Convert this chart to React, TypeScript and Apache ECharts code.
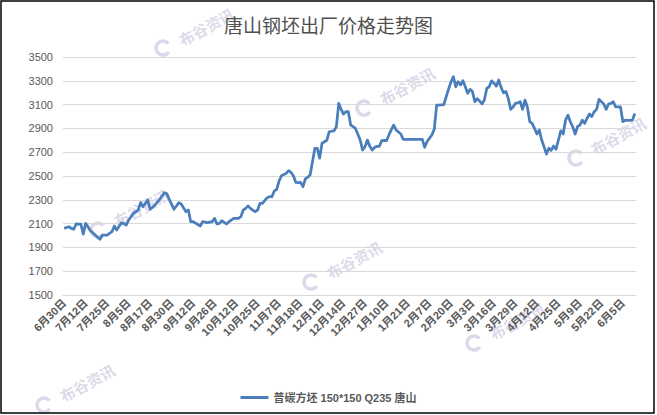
import React, { useEffect, useRef } from "react";
import * as echarts from "echarts";

const tickLabels = [
  "6月30日", "7月12日", "7月25日", "8月5日", "8月17日", "8月30日", "9月12日",
  "9月26日", "10月12日", "10月25日", "11月7日", "11月18日", "12月1日", "12月14日",
  "12月27日", "1月10日", "1月21日", "2月7日", "2月20日", "3月3日", "3月16日",
  "3月29日", "4月12日", "4月25日", "5月9日", "5月22日", "6月5日",
];
const LABEL_STEP = 9;

const prices = [
  2060, 2067, 2074, 2060, 2052, 2097, 2096, 2095, 2012, 2102,
  2071, 2040, 2022, 2004, 1986, 1968, 2004, 2004, 2004, 2018,
  2032, 2080, 2046, 2077, 2108, 2098, 2088, 2130, 2158, 2186,
  2200, 2214, 2276, 2242, 2270, 2298, 2220, 2238, 2256, 2280,
  2304, 2332, 2360, 2350, 2304, 2262, 2220, 2248, 2276, 2265,
  2232, 2200, 2214, 2116, 2116, 2104, 2092, 2080, 2116, 2112,
  2108, 2112, 2116, 2144, 2097, 2102, 2124, 2110, 2097, 2116,
  2130, 2144, 2144, 2144, 2158, 2214, 2228, 2248, 2228, 2214,
  2200, 2214, 2270, 2270, 2294, 2318, 2326, 2326, 2374, 2388,
  2458, 2502, 2512, 2522, 2545, 2530, 2502, 2447, 2445, 2447,
  2410, 2475, 2490, 2508, 2620, 2733, 2733, 2650, 2775, 2788,
  2800, 2872, 2876, 2880, 2914, 3110, 3060, 3021, 3040, 3040,
  2928, 2914, 2900, 2850, 2800, 2718, 2746, 2802, 2750, 2718,
  2740, 2750, 2750, 2797, 2800, 2797, 2845, 2887, 2928, 2887,
  2870, 2853, 2808, 2808, 2808, 2808, 2808, 2808, 2808, 2808,
  2808, 2741, 2790, 2817, 2845, 2892, 3096, 3096, 3098, 3100,
  3166, 3230, 3290, 3335, 3250, 3293, 3265, 3300, 3250, 3195,
  3228, 3210, 3124, 3150, 3130, 3105, 3140, 3236, 3250, 3300,
  3280, 3255, 3307, 3245, 3200, 3210, 3152, 3060, 3080, 3110,
  3116, 3124, 3060, 3138, 3080, 2956, 2942, 2900, 2853, 2887,
  2802, 2745, 2685, 2733, 2715, 2752, 2725, 2802, 2880, 2853,
  2970, 3012, 2956, 2914, 2853, 2914, 2928, 2970, 2942, 2985,
  3021, 3000, 3040, 3060, 3144, 3125, 3105, 3060, 3105, 3110,
  3124, 3080, 3080, 3080, 2956, 2970, 2968, 2968, 2970, 3025,
];

const seriesName = "普碳方坯 150*150 Q235 唐山";
const titleText = "唐山钢坯出厂价格走势图";
const watermarkText = "布谷资讯";
const Y_MIN = 1500;
const Y_MAX = 3500;
const Y_STEP = 200;

const watermarks = [
  { x: 163, y: 48, tx: 180, ty: 41 },
  { x: 98, y: 230, tx: 115, ty: 222 },
  { x: 364, y: 108, tx: 381, ty: 100 },
  { x: 576, y: 158, tx: 592, ty: 150 },
  { x: 311, y: 282, tx: 328, ty: 274 },
  { x: 474, y: 343, tx: 491, ty: 335 },
  { x: 44, y: 405, tx: 61, ty: 397 },
];

const FONT = "'Liberation Sans', 'Noto Sans CJK SC', sans-serif";

export default function App() {
  const ref = useRef<HTMLDivElement>(null);

  useEffect(() => {
    document.body.style.margin = "0";
    if (!ref.current) return;
    const chart = echarts.init(ref.current, undefined, { renderer: "svg" });
    const categories = prices.map((_, i) =>
      i % LABEL_STEP === 0 ? tickLabels[i / LABEL_STEP] : String(i)
    );

    const wmColor = "rgba(196,192,220,0.6)";
    const graphics: any[] = [];
    watermarks.forEach((w) => {
      graphics.push({
        type: "arc",
        z: 0,
        silent: true,
        shape: { cx: w.x, cy: w.y, r: 7, startAngle: 0.6, endAngle: 5.6 },
        style: { stroke: wmColor, lineWidth: 3.5, fill: "none" },
      });
      graphics.push({
        type: "text",
        z: 0,
        silent: true,
        x: w.tx,
        y: w.ty,
        rotation: 0.5,
        style: {
          text: watermarkText,
          fill: wmColor,
          font: "bold 15px 'Noto Sans CJK SC', serif",
          textVerticalAlign: "middle",
        },
      });
    });
    graphics.push({
      type: "rect",
      z: 100,
      silent: true,
      shape: { x: 1, y: 1, width: 653, height: 412 },
      style: { fill: "none", stroke: "#000", lineWidth: 1.5 },
    });

    chart.setOption({
      animation: false,
      backgroundColor: "#fff",
      title: {
        text: titleText,
        left: "center",
        top: 10,
        textStyle: {
          fontSize: 19,
          fontWeight: "normal",
          color: "#505050",
          fontFamily: "'Noto Sans CJK SC', sans-serif",
        },
      },
      legend: {
        data: [seriesName],
        left: "center",
        top: 387,
        icon: "rect",
        itemWidth: 28,
        itemHeight: 3,
        itemGap: 5,
        textStyle: { fontSize: 11, color: "#595959", fontFamily: FONT, fontWeight: "bold" },
      },
      grid: { left: 63, right: 21, top: 57, bottom: 120, containLabel: false },
      xAxis: {
        type: "category",
        data: categories,
        boundaryGap: true,
        axisLine: { lineStyle: { color: "#d9d9d9", width: 1 } },
        axisTick: {
          interval: 2,
          length: 5,
          lineStyle: { color: "#d9d9d9" },
        },
        axisLabel: {
          interval: (idx: number) => idx % LABEL_STEP === 0,
          rotate: 45,
          margin: 6,
          fontSize: 11,
          fontWeight: "bold",
          color: "#595959",
          fontFamily: FONT,
        },
        splitLine: { show: false },
      },
      yAxis: {
        type: "value",
        min: Y_MIN,
        max: Y_MAX,
        interval: Y_STEP,
        axisLine: { show: false },
        axisTick: { show: false },
        axisLabel: {
          margin: 10,
          fontSize: 11,
          color: "#595959",
          fontFamily: FONT,
          formatter: (v: number) => String(v),
        },
        splitLine: { lineStyle: { color: "#d9d9d9", width: 1 } },
      },
      series: [
        {
          name: seriesName,
          type: "line",
          data: prices,
          symbol: "none",
          smooth: false,
          lineStyle: { color: "#4A7EBB", width: 2.75, join: "round" },
          itemStyle: { color: "#4A7EBB" },
          z: 3,
        },
      ],
      graphic: graphics,
    });

    return () => chart.dispose();
  }, []);

  return <div ref={ref} style={{ width: 657, height: 415 }} />;
}
